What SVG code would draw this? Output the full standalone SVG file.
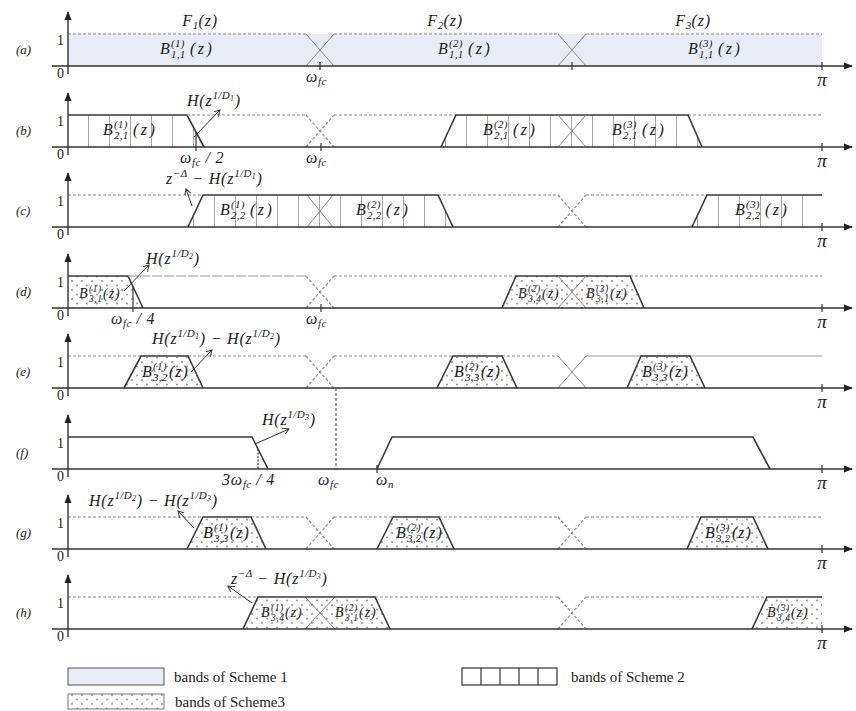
<svg xmlns="http://www.w3.org/2000/svg" width="856" height="711" viewBox="0 0 856 711">
<defs>
<style>
.ax{stroke:#333;stroke-width:1.4;fill:none}
.tk{stroke:#333;stroke-width:1.2;fill:none}
.dl{stroke:#8c8c8c;stroke-width:1.2;stroke-dasharray:3 2;fill:none}
.ld{stroke:#9a9a9a;stroke-width:1.2;stroke-dasharray:10 2;fill:none}
.gl{stroke:#9a9a9a;stroke-width:1.2;fill:none}
.xl{stroke:#888;stroke-width:1;fill:none}
.bd{stroke:#3a3a3a;stroke-width:1.6;fill:none}
.vd{stroke:#555;stroke-width:1.1;stroke-dasharray:3 2;fill:none}
.ptr{stroke:#333;stroke-width:1;fill:none;marker-end:url(#pa)}
.vh{fill:url(#vh);stroke:none}
.dt{fill:url(#dt);stroke:none}
text{font-family:"Liberation Serif","Times New Roman",serif;fill:#222}
.m{font-style:italic;font-size:16px;letter-spacing:0.8px}
.m2{font-style:italic;font-size:14px;letter-spacing:0.5px}
.s{font-size:11px;letter-spacing:0.3px}
.s2{font-size:9.5px}
.ss{font-size:8px}
.z{letter-spacing:2.5px}
.z2{letter-spacing:1px}
.n{font-size:14px}
.pl{font-style:italic;font-size:13px}
.pi{font-style:italic;font-size:19px}
.lg{font-size:15px}
</style>
<marker id="ah" markerWidth="9" markerHeight="8" refX="8" refY="4" orient="auto" markerUnits="userSpaceOnUse"><path d="M0,0.5 L9,4 L0,7.5 z" fill="#222"/></marker>
<marker id="pa" markerWidth="7" markerHeight="7" refX="6" refY="3.5" orient="auto" markerUnits="userSpaceOnUse"><path d="M0,0 L6,3.5 L0,7" fill="none" stroke="#333" stroke-width="1"/></marker>
<pattern id="vh" patternUnits="userSpaceOnUse" width="21" height="8" x="4"><line x1="0.5" y1="0" x2="0.5" y2="8" stroke="#a8a8a8" stroke-width="1"/></pattern>
<pattern id="dt" patternUnits="userSpaceOnUse" width="10" height="9"><circle cx="2" cy="2" r="0.9" fill="#8a8a8a"/><circle cx="7" cy="6.5" r="0.9" fill="#8a8a8a"/></pattern>
</defs>
<rect width="856" height="711" fill="#fff"/>

<!-- (a) -->
<g id="panel-a">
<rect x="68" y="34" width="754" height="32" fill="#e7ecf6"/>
<path class="dl" d="M68,34 H306 M334,34 H558 M586,34 H822"/>
<path class="xl" d="M306,34 L334,66 M306,66 L334,34 M558,34 L586,66 M558,66 L586,34"/>
<line class="ax" x1="68" y1="74" x2="68" y2="12" marker-end="url(#ah)"/>
<line class="ax" x1="52" y1="66" x2="852" y2="66" marker-end="url(#ah)"/>
<path class="tk" d="M320,62 V70 M572,62 V70 M822,62 V70"/>
<text class="pl" x="16" y="54">(a)</text>
<text class="n" x="57" y="45">1</text>
<text class="n" x="57" y="78">0</text>
<text class="pi" x="822" y="86" text-anchor="middle">π</text>
<text class="m" x="306" y="82">ω<tspan class="s" dy="3">fc</tspan></text>
<text class="m" x="200" y="26" text-anchor="middle">F<tspan class="s" dy="3">1</tspan><tspan dy="-3">(z)</tspan></text>
<text class="m" x="445" y="26" text-anchor="middle">F<tspan class="s" dy="3">2</tspan><tspan dy="-3">(z)</tspan></text>
<text class="m" x="693" y="26" text-anchor="middle">F<tspan class="s" dy="3">3</tspan><tspan dy="-3">(z)</tspan></text>
<text class="m" y="54"><tspan x="160">B</tspan><tspan class="s" x="171" dy="-7">(1)</tspan><tspan class="s" x="171" dy="11">1,1</tspan><tspan class="z" x="190" dy="-4">(z)</tspan></text>
<text class="m" y="54"><tspan x="438">B</tspan><tspan class="s" x="449" dy="-7">(2)</tspan><tspan class="s" x="449" dy="11">1,1</tspan><tspan class="z" x="468" dy="-4">(z)</tspan></text>
<text class="m" y="54"><tspan x="688">B</tspan><tspan class="s" x="699" dy="-7">(3)</tspan><tspan class="s" x="699" dy="11">1,1</tspan><tspan class="z" x="718" dy="-4">(z)</tspan></text>
</g>

<!-- (b) -->
<g id="panel-b">
<polygon class="vh" points="68,147 68,115 187,115 204,147"/>
<polygon class="vh" points="441,147 456,115 688,115 702,147"/>
<path class="bd" d="M68,115 H187 L204,147"/>
<path class="dl" d="M187,115 H306 M334,115 H456 M688,115 H822"/>
<path class="dl" d="M306,115 L334,147 M306,147 L334,115"/>
<path class="bd" d="M441,147 L456,115 H688 L702,147"/>
<path class="xl" d="M558,115 L586,147 M558,147 L586,115"/>
<line class="ax" x1="68" y1="155" x2="68" y2="93" marker-end="url(#ah)"/>
<line class="ax" x1="52" y1="147" x2="852" y2="147" marker-end="url(#ah)"/>
<path class="tk" d="M196,132 V151 M321,143 V151 M822,143 V151"/>
<text class="pl" x="16" y="135">(b)</text>
<text class="n" x="57" y="126">1</text>
<text class="n" x="57" y="159">0</text>
<text class="pi" x="822" y="167" text-anchor="middle">π</text>
<text class="m" x="180" y="163">ω<tspan class="s" dy="3">fc</tspan><tspan dy="-3"> / 2</tspan></text>
<text class="m" x="306" y="163">ω<tspan class="s" dy="3">fc</tspan></text>
<text class="m" x="187" y="106">H(z<tspan class="s" dy="-7">1/D</tspan><tspan class="ss" dy="2">1</tspan><tspan dy="5">)</tspan></text>
<text class="m" y="135"><tspan x="103">B</tspan><tspan class="s" x="114" dy="-7">(1)</tspan><tspan class="s" x="114" dy="11">2,1</tspan><tspan class="z" x="133" dy="-4">(z)</tspan></text>
<text class="m" y="135"><tspan x="483">B</tspan><tspan class="s" x="494" dy="-7">(2)</tspan><tspan class="s" x="494" dy="11">2,1</tspan><tspan class="z" x="513" dy="-4">(z)</tspan></text>
<text class="m" y="135"><tspan x="612">B</tspan><tspan class="s" x="623" dy="-7">(3)</tspan><tspan class="s" x="623" dy="11">2,1</tspan><tspan class="z" x="642" dy="-4">(z)</tspan></text>
</g>

<!-- (c) -->
<g id="panel-c">
<polygon class="vh" points="188,227 203,195 438,195 453,227"/>
<polygon class="vh" points="692,227 707,195 822,195 822,227"/>
<path class="dl" d="M68,195 H203 M438,195 H558 M586,195 H707"/>
<path class="dl" d="M558,195 L586,227 M558,227 L586,195"/>
<path class="xl" d="M307,195 L333,227 M307,227 L333,195"/>
<path class="bd" d="M188,227 L203,195 H438 L453,227"/>
<path class="bd" d="M692,227 L707,195 H822"/>
<line class="ax" x1="68" y1="235" x2="68" y2="173" marker-end="url(#ah)"/>
<line class="ax" x1="52" y1="227" x2="852" y2="227" marker-end="url(#ah)"/>
<path class="tk" d="M822,223 V231"/>
<text class="pl" x="16" y="215">(c)</text>
<text class="n" x="57" y="206">1</text>
<text class="n" x="57" y="239">0</text>
<text class="pi" x="822" y="247" text-anchor="middle">π</text>
<text class="m" x="166" y="184">z<tspan class="s" dy="-7">−Δ</tspan><tspan dy="7"> − H(z</tspan><tspan class="s" dy="-7">1/D</tspan><tspan class="ss" dy="2">1</tspan><tspan dy="5">)</tspan></text>
<text class="m" y="215"><tspan x="220">B</tspan><tspan class="s" x="231" dy="-7">(1)</tspan><tspan class="s" x="231" dy="11">2,2</tspan><tspan class="z" x="250" dy="-4">(z)</tspan></text>
<text class="m" y="215"><tspan x="356">B</tspan><tspan class="s" x="367" dy="-7">(2)</tspan><tspan class="s" x="367" dy="11">2,2</tspan><tspan class="z" x="386" dy="-4">(z)</tspan></text>
<text class="m" y="215"><tspan x="735">B</tspan><tspan class="s" x="746" dy="-7">(3)</tspan><tspan class="s" x="746" dy="11">2,2</tspan><tspan class="z" x="765" dy="-4">(z)</tspan></text>
</g>

<!-- (d) -->
<g id="panel-d">
<polygon class="dt" points="68,308 68,276 128,276 143,308"/>
<polygon class="dt" points="502,308 516,276 630,276 644,308"/>
<path class="bd" d="M68,276 H128 L143,308"/>
<path class="ld" d="M128,276 H306"/>
<path class="dl" d="M306,276 L334,308 M306,308 L334,276 M334,276 H516 M630,276 H822"/>
<path class="bd" d="M502,308 L516,276 H630 L644,308"/>
<path class="xl" d="M558,276 L586,308 M558,308 L586,276"/>
<line class="ax" x1="68" y1="316" x2="68" y2="254" marker-end="url(#ah)"/>
<line class="ax" x1="52" y1="308" x2="852" y2="308" marker-end="url(#ah)"/>
<path class="tk" d="M133,287 V312 M321,304 V312 M822,304 V312"/>
<text class="pl" x="16" y="296">(d)</text>
<text class="n" x="57" y="287">1</text>
<text class="n" x="57" y="320">0</text>
<text class="pi" x="822" y="328" text-anchor="middle">π</text>
<text class="m" x="111" y="324">ω<tspan class="s" dy="3">fc</tspan><tspan dy="-3"> / 4</tspan></text>
<text class="m" x="306" y="324">ω<tspan class="s" dy="3">fc</tspan></text>
<text class="m" x="146" y="264">H(z<tspan class="s" dy="-7">1/D</tspan><tspan class="ss" dy="2">2</tspan><tspan dy="5">)</tspan></text>
<text class="m2" y="298"><tspan x="79">B</tspan><tspan class="s2" x="89" dy="-6">(1)</tspan><tspan class="s2" x="89" dy="10">3,1</tspan><tspan class="z2" x="103" dy="-4">(z)</tspan></text>
<text class="m2" y="298"><tspan x="518">B</tspan><tspan class="s2" x="528" dy="-6">(2)</tspan><tspan class="s2" x="528" dy="10">3,4</tspan><tspan class="z2" x="542" dy="-4">(z)</tspan></text>
<text class="m2" y="298"><tspan x="586">B</tspan><tspan class="s2" x="596" dy="-6">(3)</tspan><tspan class="s2" x="596" dy="10">3,1</tspan><tspan class="z2" x="610" dy="-4">(z)</tspan></text>
</g>

<!-- (e) -->
<g id="panel-e">
<polygon class="dt" points="124,388 141,356 188,356 203,388"/>
<polygon class="dt" points="437,388 453,356 502,356 517,388"/>
<polygon class="dt" points="627,388 641,356 690,356 705,388"/>
<path class="dl" d="M68,356 H141 M188,356 H306 M306,356 L334,388 M306,388 L334,356 M334,356 H453 M502,356 H558"/>
<path class="xl" d="M558,356 L586,388 M558,388 L586,356"/>
<path class="gl" d="M586,356 H822"/>
<path class="bd" d="M124,388 L141,356 H188 L203,388 M437,388 L453,356 H502 L517,388 M627,388 L641,356 H690 L705,388"/>
<path class="vd" d="M336,388 V469"/>
<line class="ax" x1="68" y1="396" x2="68" y2="334" marker-end="url(#ah)"/>
<line class="ax" x1="52" y1="388" x2="852" y2="388" marker-end="url(#ah)"/>
<path class="tk" d="M822,384 V392"/>
<text class="pl" x="16" y="376">(e)</text>
<text class="n" x="57" y="367">1</text>
<text class="n" x="57" y="400">0</text>
<text class="pi" x="822" y="408" text-anchor="middle">π</text>
<text class="m" x="152" y="344">H(z<tspan class="s" dy="-7">1/D</tspan><tspan class="ss" dy="2">1</tspan><tspan dy="5">) − H(z</tspan><tspan class="s" dy="-7">1/D</tspan><tspan class="ss" dy="2">2</tspan><tspan dy="5">)</tspan></text>
<text class="m" y="377"><tspan x="142">B</tspan><tspan class="s" x="153" dy="-7">(1)</tspan><tspan class="s" x="153" dy="11">3,2</tspan><tspan class="z2" x="169" dy="-4">(z)</tspan></text>
<text class="m" y="377"><tspan x="454">B</tspan><tspan class="s" x="465" dy="-7">(2)</tspan><tspan class="s" x="465" dy="11">3,3</tspan><tspan class="z2" x="481" dy="-4">(z)</tspan></text>
<text class="m" y="377"><tspan x="642">B</tspan><tspan class="s" x="653" dy="-7">(3)</tspan><tspan class="s" x="653" dy="11">3,3</tspan><tspan class="z2" x="669" dy="-4">(z)</tspan></text>
</g>

<!-- (f) -->
<g id="panel-f">
<path class="bd" d="M68,437 H252 L268,469"/>
<path class="bd" d="M377,469 L392,437 H753 L770,469"/>
<path d="M258,449 V469" stroke="#333" stroke-width="1.1" stroke-dasharray="2 1.5" fill="none"/>
<line class="ax" x1="68" y1="477" x2="68" y2="415" marker-end="url(#ah)"/>
<line class="ax" x1="52" y1="469" x2="852" y2="469" marker-end="url(#ah)"/>
<path class="tk" d="M377,465 V473 M822,465 V473"/>
<text class="pl" x="16" y="457">(f)</text>
<text class="n" x="57" y="448">1</text>
<text class="n" x="57" y="481">0</text>
<text class="pi" x="822" y="489" text-anchor="middle">π</text>
<text class="m" x="222" y="485">3ω<tspan class="s" dy="3">fc</tspan><tspan dy="-3"> / 4</tspan></text>
<text class="m" x="318" y="485">ω<tspan class="s" dy="3">fc</tspan></text>
<text class="m" x="376" y="485">ω<tspan class="s" dy="3">n</tspan></text>
<text class="m" x="262" y="425">H(z<tspan class="s" dy="-7">1/D</tspan><tspan class="ss" dy="2">3</tspan><tspan dy="5">)</tspan></text>
</g>

<!-- (g) -->
<g id="panel-g">
<polygon class="dt" points="187,549 203,517 251,517 266,549"/>
<polygon class="dt" points="377,549 393,517 439,517 454,549"/>
<polygon class="dt" points="687,549 701,517 753,517 768,549"/>
<path class="dl" d="M68,517 H203 M251,517 H306 M334,517 H393 M439,517 H558 M586,517 H701 M753,517 H822 M306,517 L334,549 M306,549 L334,517 M558,517 L586,549 M558,549 L586,517"/>
<path class="bd" d="M187,549 L203,517 H251 L266,549 M377,549 L393,517 H439 L454,549 M687,549 L701,517 H753 L768,549"/>
<line class="ax" x1="68" y1="557" x2="68" y2="495" marker-end="url(#ah)"/>
<line class="ax" x1="52" y1="549" x2="852" y2="549" marker-end="url(#ah)"/>
<path class="tk" d="M822,545 V553"/>
<text class="pl" x="16" y="537">(g)</text>
<text class="n" x="57" y="528">1</text>
<text class="n" x="57" y="561">0</text>
<text class="pi" x="822" y="569" text-anchor="middle">π</text>
<text class="m" x="89" y="506">H(z<tspan class="s" dy="-7">1/D</tspan><tspan class="ss" dy="2">2</tspan><tspan dy="5">) − H(z</tspan><tspan class="s" dy="-7">1/D</tspan><tspan class="ss" dy="2">3</tspan><tspan dy="5">)</tspan></text>
<text class="m" y="538"><tspan x="203">B</tspan><tspan class="s" x="214" dy="-7">(1)</tspan><tspan class="s" x="214" dy="11">3,3</tspan><tspan class="z2" x="230" dy="-4">(z)</tspan></text>
<text class="m" y="538"><tspan x="396">B</tspan><tspan class="s" x="407" dy="-7">(2)</tspan><tspan class="s" x="407" dy="11">3,2</tspan><tspan class="z2" x="423" dy="-4">(z)</tspan></text>
<text class="m" y="538"><tspan x="705">B</tspan><tspan class="s" x="716" dy="-7">(3)</tspan><tspan class="s" x="716" dy="11">3,2</tspan><tspan class="z2" x="732" dy="-4">(z)</tspan></text>
</g>

<!-- (h) -->
<g id="panel-h">
<polygon class="dt" points="243,629 258,597 375,597 390,629"/>
<polygon class="dt" points="752,629 767,597 822,597 822,629"/>
<path class="dl" d="M68,597 H258 M375,597 H558 M586,597 H767 M558,597 L586,629 M558,629 L586,597"/>
<path class="xl" d="M305,597 L335,629 M305,629 L335,597"/>
<path class="bd" d="M243,629 L258,597 H375 L390,629 M752,629 L767,597 H822"/>
<line class="ax" x1="68" y1="637" x2="68" y2="575" marker-end="url(#ah)"/>
<line class="ax" x1="52" y1="629" x2="852" y2="629" marker-end="url(#ah)"/>
<path class="tk" d="M822,625 V633"/>
<text class="pl" x="16" y="617">(h)</text>
<text class="n" x="57" y="608">1</text>
<text class="n" x="57" y="641">0</text>
<text class="pi" x="822" y="649" text-anchor="middle">π</text>
<text class="m" x="231" y="584">z<tspan class="s" dy="-7">−Δ</tspan><tspan dy="7"> − H(z</tspan><tspan class="s" dy="-7">1/D</tspan><tspan class="ss" dy="2">3</tspan><tspan dy="5">)</tspan></text>
<text class="m2" y="617"><tspan x="261">B</tspan><tspan class="s2" x="271" dy="-6">(1)</tspan><tspan class="s2" x="271" dy="10">3,4</tspan><tspan class="z2" x="285" dy="-4">(z)</tspan></text>
<text class="m2" y="617"><tspan x="335">B</tspan><tspan class="s2" x="345" dy="-6">(2)</tspan><tspan class="s2" x="345" dy="10">3,1</tspan><tspan class="z2" x="359" dy="-4">(z)</tspan></text>
<text class="m2" y="617"><tspan x="767">B</tspan><tspan class="s2" x="777" dy="-6">(3)</tspan><tspan class="s2" x="777" dy="10">3,4</tspan><tspan class="z2" x="791" dy="-4">(z)</tspan></text>
</g>

<g id="connectors">
<line class="ptr" x1="194" y1="137" x2="220" y2="110"/>
<line class="ptr" x1="192" y1="206" x2="186" y2="189"/>
<line class="ptr" x1="124" y1="291" x2="149" y2="265"/>
<line class="ptr" x1="191" y1="372" x2="212" y2="350"/>
<line class="ptr" x1="255" y1="444" x2="289" y2="429"/>
<line class="ptr" x1="194" y1="528" x2="178" y2="511"/>
<line class="ptr" x1="252" y1="603" x2="228" y2="586"/>
</g>

<g id="legend">
<rect x="68" y="668" width="96" height="17" fill="#e7ecf6" stroke="#555" stroke-width="1"/>
<text class="lg" x="174" y="682">bands of Scheme 1</text>
<rect x="462" y="668" width="95" height="17" fill="none" stroke="#333" stroke-width="1.2"/>
<path d="M481,668 V685 M500,668 V685 M519,668 V685 M538,668 V685" stroke="#333" stroke-width="1.2"/>
<text class="lg" x="571" y="682">bands of Scheme 2</text>
<rect x="68" y="694" width="96" height="15" fill="url(#dt)" stroke="#777" stroke-width="1"/>
<text class="lg" x="175" y="707">bands of Scheme3</text>
</g>
</svg>
